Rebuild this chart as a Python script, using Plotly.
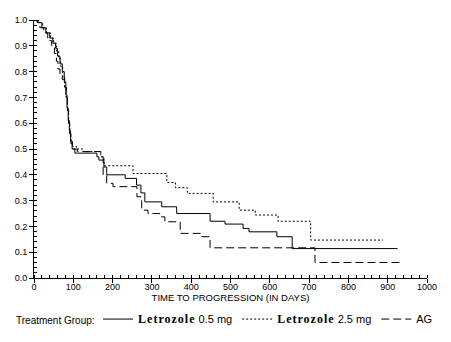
import plotly.graph_objects as go

# Kaplan-Meier step data (time in days, survival proportion after the step)
let05_days = [0, 10, 20, 30, 40, 48, 55, 60, 66, 72, 77, 81, 84, 87, 90, 93, 97, 104, 160, 165, 178, 185, 232, 261, 272, 282, 325, 363, 448, 486, 532, 547, 618, 657, 925]
let05_surv = [1.0, 0.99, 0.97, 0.95, 0.93, 0.91, 0.89, 0.86, 0.83, 0.80, 0.76, 0.71, 0.66, 0.61, 0.57, 0.53, 0.50, 0.484, 0.47, 0.457, 0.43, 0.40, 0.386, 0.36, 0.33, 0.295, 0.276, 0.25, 0.22, 0.209, 0.192, 0.179, 0.16, 0.114, 0.114]

let25_days = [0, 12, 22, 32, 42, 50, 57, 63, 68, 73, 78, 82, 85, 88, 91, 94, 98, 108, 125, 170, 178, 252, 338, 360, 390, 456, 522, 563, 621, 704, 888]
let25_surv = [1.0, 0.99, 0.97, 0.95, 0.93, 0.91, 0.88, 0.85, 0.82, 0.78, 0.74, 0.70, 0.65, 0.60, 0.56, 0.53, 0.51, 0.50, 0.49, 0.47, 0.435, 0.405, 0.37, 0.35, 0.328, 0.295, 0.263, 0.244, 0.22, 0.147, 0.147]

ag_days = [0, 8, 15, 25, 35, 45, 52, 57, 61, 66, 72, 78, 82, 85, 88, 91, 94, 98, 110, 170, 176, 185, 201, 262, 274, 290, 320, 333, 372, 427, 448, 715, 931]
ag_surv = [1.0, 0.99, 0.97, 0.95, 0.92, 0.90, 0.87, 0.84, 0.81, 0.79, 0.77, 0.74, 0.70, 0.65, 0.60, 0.56, 0.52, 0.50, 0.49, 0.47, 0.40, 0.367, 0.354, 0.315, 0.263, 0.25, 0.237, 0.218, 0.173, 0.16, 0.117, 0.06, 0.06]

series_names = [
    "<span style='font-family:Liberation Serif;font-weight:bold;font-size:12px;letter-spacing:1px'>Letrozole</span> 0.5 mg",
    "<span style='font-family:Liberation Serif;font-weight:bold;font-size:12px;letter-spacing:1px'>Letrozole</span> 2.5 mg",
    "AG",
]

x_ticks = list(range(0, 1001, 100))
y_ticks = [round(i * 0.1, 1) for i in range(11)]

fig = go.Figure()
for name, xs, ys, dash in [
    (series_names[0], let05_days, let05_surv, "solid"),
    (series_names[1], let25_days, let25_surv, "2px,2px"),
    (series_names[2], ag_days, ag_surv, "8px,4px"),
]:
    fig.add_trace(go.Scatter(
        x=xs, y=ys, mode="lines", name=name, line_shape="hv",
        line=dict(color="black", width=1, dash=dash),
    ))

tick_font = dict(family="Liberation Sans, Arial, sans-serif", size=9, color="black")
leg_font = dict(family="Liberation Sans, Arial, sans-serif", size=11, color="black")

fig.update_layout(
    width=451, height=342,
    margin=dict(l=34, r=24, t=20, b=64, autoexpand=False),
    paper_bgcolor="white", plot_bgcolor="white",
    font=tick_font,
    showlegend=True,
    legend=dict(
        orientation="h", x=0.163, xanchor="left", y=-0.103, yanchor="top",
        font=leg_font, itemwidth=30, tracegroupgap=0,
        bgcolor="rgba(0,0,0,0)",
    ),
    annotations=[dict(
        text="Treatment Group:", xref="paper", yref="paper",
        x=(14 - 34) / 393, xanchor="left", y=-0.163, yanchor="middle",
        showarrow=False, font=dict(family="Liberation Sans, Arial, sans-serif", size=10, color="black"),
    )],
    xaxis=dict(
        range=[0, 1000], tickvals=x_ticks, ticks="outside", ticklen=4,
        tickcolor="black", showline=True, linecolor="black", linewidth=1,
        showgrid=False, zeroline=False, tickfont=tick_font, ticklabelstandoff=-4,
        title=dict(text="TIME TO PROGRESSION (IN DAYS)", standoff=1,
                   font=dict(family="Liberation Sans, Arial, sans-serif", size=9.5, color="black")),
        minor=dict(dtick=20, ticks="inside", ticklen=3, tickcolor="black", showgrid=False),
    ),
    yaxis=dict(
        range=[0, 1.0], tickvals=y_ticks, tickformat=".1f", ticks="outside", ticklen=4,
        tickcolor="black", showline=True, linecolor="black", linewidth=1,
        showgrid=False, zeroline=False, tickfont=tick_font,
        minor=dict(dtick=0.02, ticks="inside", ticklen=3, tickcolor="black", showgrid=False),
    ),
)

fig.write_html("out.html")
